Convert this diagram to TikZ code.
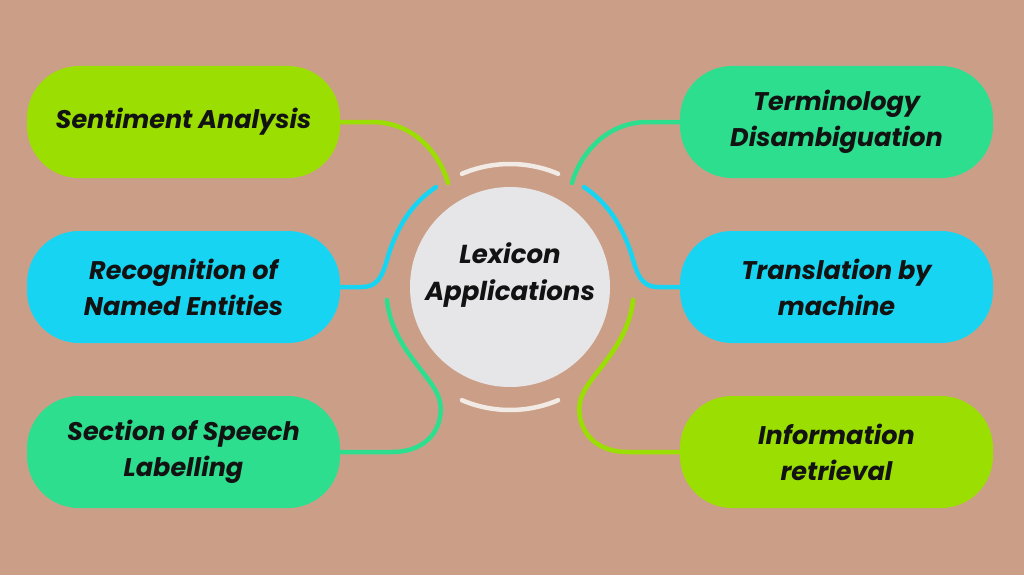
\documentclass[tikz,border=0pt]{standalone}
\usepackage{fontspec}
\setmainfont{Poppins}
\definecolor{bgc}{HTML}{CB9F87}
\definecolor{limec}{HTML}{9ADE02}
\definecolor{greenc}{HTML}{2DDE8E}
\definecolor{bluec}{HTML}{17D5F2}
\definecolor{hubc}{HTML}{E6E6E8}
\definecolor{haloc}{HTML}{F2EAE4}
\tikzstyle{leaf}=[rounded corners=52pt,minimum width=313pt,minimum height=112pt,inner sep=0pt,align=center,font=\fontsize{25.5}{36}\selectfont\bfseries\itshape,text=black!93]
\tikzstyle{hub}=[circle,fill=hubc,minimum size=200pt,inner sep=0pt]
\tikzstyle{hubtext}=[align=center,font=\fontsize{26}{37}\selectfont\bfseries\itshape,text=black!93]
\tikzstyle{wire}=[line width=4.5pt,line cap=round]
\tikzstyle{halo}=[draw=haloc,line width=4.5pt,line cap=round]

\begin{document}
\begin{tikzpicture}[x=1pt,y=-1pt]
    % background
    \fill[bgc] (0,0) rectangle (1024,575);
    \useasboundingbox (0,0) rectangle (1024,575);
    % hub and the arcs round it
    \node[hub,label={[hubtext,yshift=12pt]center:Lexicon\\Applications}] (lex) at (510,287) {};
    \draw[halo] (lex.center) ++(247:123) arc (247:293:123);
    \draw[halo] (lex.center) ++(67:123) arc (67:113:123);
    % leaves
    \foreach \pos/\name/\col/\txt in {{(183.5,122)/sa/limec/Sentiment Analysis},
        {(183.5,287)/rn/bluec/Recognition of\\Named Entities},
        {(183.5,452)/ss/greenc/Section of Speech\\Labelling},
        {(836.5,122)/td/greenc/Terminology\\Disambiguation},
        {(836.5,287)/tm/bluec/Translation by\\machine},
        {(836.5,452)/ir/limec/Information\\retrieval}}
        \node[leaf,fill=\col] (\name) at \pos {\txt};
    % free ends of the connectors, near the hub
    \coordinate (sa-e) at (448,183);
    \coordinate (rn-e) at (436,187);
    \coordinate (ss-e) at (387,300);
    \coordinate (td-e) at (572,183);
    \coordinate (tm-e) at (584,187);
    \coordinate (ir-e) at (633,300);
    % connectors
    \draw[wire,draw=limec] (sa.east) -- (372,122) .. controls (418,122) and (442,160) .. (sa-e);
    \draw[wire,draw=bluec] (rn.east) -- (362,287) .. controls (382,287) and (384,268) .. (390,250)
        .. controls (400,222) and (414,202) .. (rn-e);
    \draw[wire,draw=greenc] (ss.east) -- (392,452) .. controls (430,452) and (444,425) .. (440,402)
        .. controls (436,378) and (392,350) .. (ss-e);
    \draw[wire,draw=greenc] (td.west) -- (648,122) .. controls (602,122) and (578,160) .. (td-e);
    \draw[wire,draw=bluec] (tm.west) -- (658,287) .. controls (638,287) and (636,268) .. (630,250)
        .. controls (620,222) and (606,202) .. (tm-e);
    \draw[wire,draw=limec] (ir.west) -- (628,452) .. controls (590,452) and (576,425) .. (580,402)
        .. controls (584,378) and (628,350) .. (ir-e);
\end{tikzpicture}
\end{document}
